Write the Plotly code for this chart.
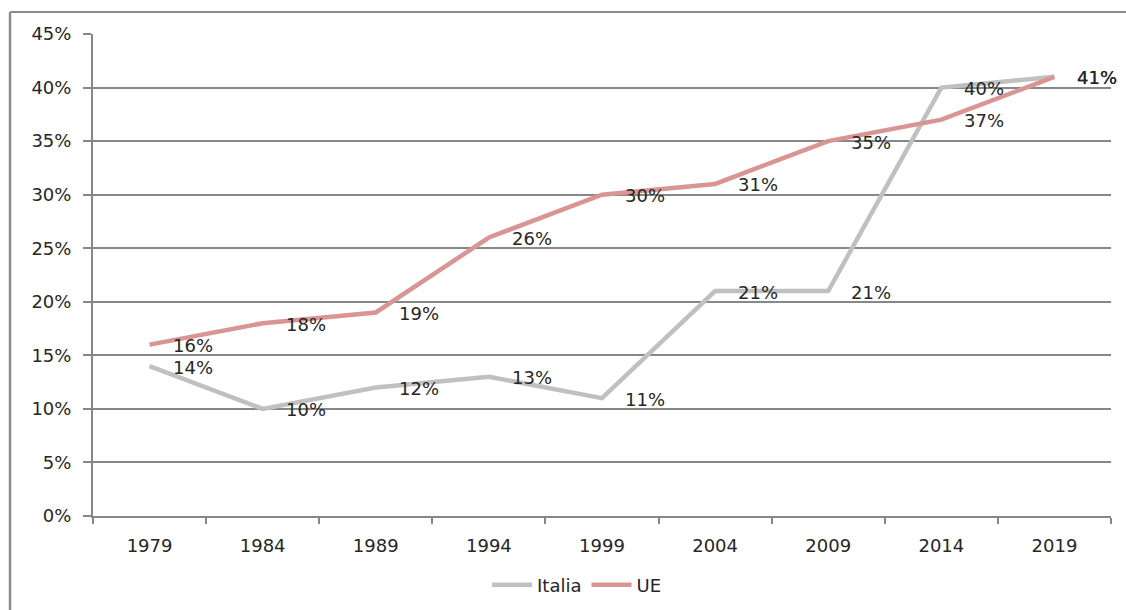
import plotly.graph_objects as go

# Share of women elected, Italy vs EU, by election year
years = ["1979", "1984", "1989", "1994", "1999", "2004", "2009", "2014", "2019"]
italia = [14, 10, 12, 13, 11, 21, 21, 40, 41]
ue = [16, 18, 19, 26, 30, 31, 35, 37, 41]
y_ticks = [0, 5, 10, 15, 20, 25, 30, 35, 40, 45]
y_tick_labels = [f"{v}%" for v in y_ticks]

FONT = "DejaVu Sans"
FONT_SIZE = 18
TEXT_COLOR = "#262626"
GRID = "#878787"
ITALIA_COLOR = "#c0c0c0"
UE_COLOR = "#d99594"

fig = go.Figure()
fig.add_trace(go.Scatter(x=years, y=italia, name="Italia", mode="lines",
                         line=dict(color=ITALIA_COLOR, width=4.5)))
fig.add_trace(go.Scatter(x=years, y=ue, name="UE", mode="lines",
                         line=dict(color=UE_COLOR, width=4.5)))

# value labels to the right of every point (category index as x position)
annotations = []
for series in (italia, ue):
    for i, v in enumerate(series):
        annotations.append(dict(x=i, y=v, xref="x", yref="y", text=f"{v}%",
                                showarrow=False, xanchor="center", yanchor="middle",
                                xshift=43, yshift=-1,
                                font=dict(family=FONT, size=FONT_SIZE, color=TEXT_COLOR)))

fig.update_layout(
    width=1126, height=610,
    margin=dict(l=93, r=15, t=34, b=94, autoexpand=False),
    paper_bgcolor="white", plot_bgcolor="white",
    font=dict(family=FONT, size=FONT_SIZE, color=TEXT_COLOR),
    showlegend=True,
    legend=dict(orientation="h", x=0.475, xanchor="center", y=-0.143, yanchor="middle",
                font=dict(family=FONT, size=FONT_SIZE, color=TEXT_COLOR), itemwidth=40),
    annotations=annotations,
    shapes=[
        dict(type="line", xref="paper", yref="paper", x0=-0.0815, x1=1.1, y0=1.0456, y1=1.0456,
             line=dict(color="#8c8c8c", width=2)),
        dict(type="line", xref="paper", yref="paper", x0=-0.0815, x1=-0.0815, y0=1.0456, y1=-0.3,
             line=dict(color="#8c8c8c", width=2.5)),
    ],
)
fig.update_xaxes(type="category", range=[-0.5, len(years) - 0.5], showgrid=False,
                 showline=True, linecolor=GRID, linewidth=2, automargin=False,
                 ticks="outside", tickson="boundaries", ticklen=6, tickcolor=GRID, tickwidth=2,
                 tickangle=0, ticklabelstandoff=12,
                 tickfont=dict(family=FONT, size=FONT_SIZE, color=TEXT_COLOR), fixedrange=True)
fig.update_yaxes(range=[0, 45], tickvals=y_ticks, ticktext=y_tick_labels,
                 showgrid=True, gridcolor=GRID, gridwidth=2, zeroline=False,
                 showline=True, linecolor=GRID, linewidth=2, automargin=False,
                 ticks="outside", ticklen=8, tickcolor=GRID, tickwidth=2,
                 ticklabelstandoff=8,
                 tickfont=dict(family=FONT, size=FONT_SIZE, color=TEXT_COLOR), fixedrange=True)

fig.write_html("out.html")
